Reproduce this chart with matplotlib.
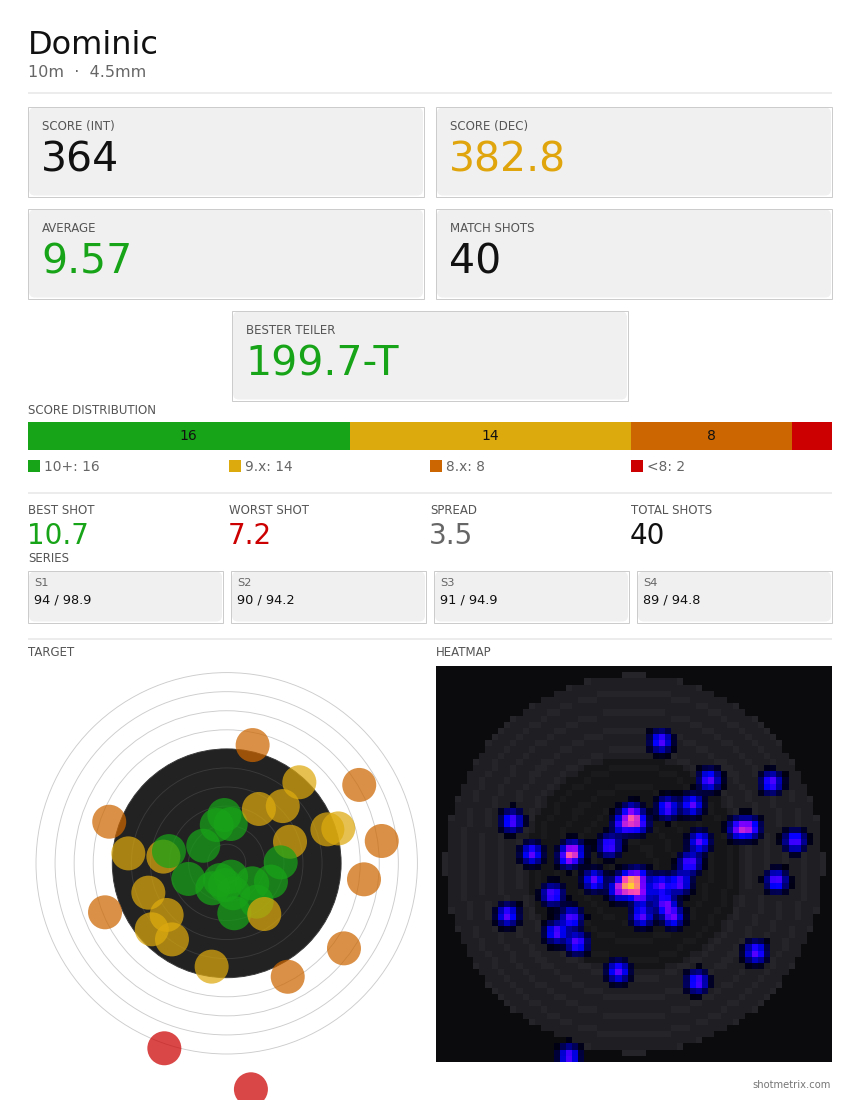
import numpy as np
import matplotlib
matplotlib.use("Agg")
import matplotlib.pyplot as plt
from matplotlib.patches import FancyBboxPatch, Rectangle, Circle

plt.rcParams['font.family'] = ['DejaVu Sans']

# ---------------- data ----------------
shooter = "Dominic"
subtitle = "10m  \u00b7  4.5mm"

card_labels = ["SCORE (INT)", "SCORE (DEC)", "AVERAGE", "MATCH SHOTS", "BESTER TEILER"]
card_values = ["364", "382.8", "9.57", "40", "199.7-T"]

dist_labels = ["10+", "9.x", "8.x", "<8"]
dist_counts = [16, 14, 8, 2]

stat_labels = ["BEST SHOT", "WORST SHOT", "SPREAD", "TOTAL SHOTS"]
stat_values = ["10.7", "7.2", "3.5", "40"]

series_names = ["S1", "S2", "S3", "S4"]
series_values = ["94 / 98.9", "90 / 94.2", "91 / 94.9", "89 / 94.8"]

# shot positions (ring units, centre = 0) and score class
shot_x = [-0.12, 0.21, -0.52, 1.69, 2.94, 3.81, -1.23, -3.32, -3.03, -5.16,
          1.36, 6.95, -6.16, 5.28, 5.85, 3.32, 8.13, 2.83, 2.32, 1.34,
          0.23, -0.09, -0.75, -0.35, -2.01, 7.20, -6.38, -4.11, -3.15, -3.93,
          -2.87, 0.40, 1.57, 0.35, 1.97, -0.79, 6.15, 3.20, -3.27, 1.27]
shot_y = [2.53, 2.06, 2.01, 2.85, 3.00, 4.25, 0.92, 0.35, 0.64, 0.52,
          6.20, 4.11, 2.18, 1.78, 1.83, 1.13, 1.17, 0.05, -0.96, -1.05,
          -0.70, -1.14, -1.31, -0.88, -0.82, -0.84, -2.57, -1.54, -2.71, -3.46,
          -3.99, -2.62, -2.01, -1.57, -2.66, -5.42, -4.46, -5.95, -9.70, -11.85]
shot_cls = ["10", "10", "10", "9", "9", "9", "10", "9", "10", "9",
            "8", "8", "8", "9", "9", "9", "8", "10", "10", "10",
            "10", "10", "10", "10", "10", "8", "8", "9", "9", "9",
            "9", "10", "10", "10", "9", "9", "8", "8", "7", "7"]

# ---------------- style ----------------
GREEN = "#18a418"
YELLOW = "#ddaa0e"
ORANGE = "#cc6600"
RED = "#cc0000"
cls_color = {"10": GREEN, "9": YELLOW, "8": ORANGE, "7": RED}
dist_colors = [GREEN, YELLOW, ORANGE, RED]
card_colors = ["#111111", "#e0a50c", GREEN, "#111111", GREEN]
stat_colors = [GREEN, RED, "#666666", "#111111"]
LABEL = "#555555"

W, H = 860, 1100
fig = plt.figure(figsize=(W / 100, H / 100), dpi=100)
fig.patch.set_facecolor("white")

bg = fig.add_axes([0, 0, 1, 1])
bg.set_xlim(0, W)
bg.set_ylim(H, 0)
bg.axis("off")


def pt(px):
    return px * 72 / 100


def hline(y):
    bg.plot([28, 832], [y, y], color="#e8e8e8", lw=pt(1.6), solid_capstyle="butt")


def card(x0, y0, x1, y1):
    bg.add_patch(FancyBboxPatch((x0 + 1, y0 + 1), x1 - x0 - 2, y1 - y0 - 2,
                                boxstyle="round,pad=0,rounding_size=6",
                                fc="#f0f0f0", ec="none"))
    bg.add_patch(Rectangle((x0, y0), x1 - x0, y1 - y0, fc="none",
                           ec="#cccccc", lw=pt(1)))


# header
bg.text(28, 54.3, shooter, fontsize=23, color="#111111", va="baseline")
bg.text(28, 76.7, subtitle, fontsize=11.5, color="#666666", va="baseline")
hline(93)

# metric cards
card_boxes = [(28, 106.5, 424, 196.5), (436, 106.5, 832, 196.5),
              (28, 208.5, 424, 298.5), (436, 208.5, 832, 298.5),
              (232, 310.5, 628, 400.5)]
for (x0, y0, x1, y1), lab, val, col in zip(card_boxes, card_labels, card_values, card_colors):
    card(x0, y0, x1, y1)
    bg.text(x0 + 14, y0 + 23.5, lab, fontsize=8.5, color=LABEL, va="baseline")
    bg.text(x0 + 13, y0 + 65.5, val, fontsize=29.5, color=col, va="baseline")

# score distribution
bg.text(28, 414, "SCORE DISTRIBUTION", fontsize=8.5, color=LABEL, va="baseline")
total = sum(dist_counts)
bar_ax = fig.add_axes([28 / W, 1 - 450 / H, 804 / W, 28 / H])
lefts = np.concatenate([[0], np.cumsum(dist_counts)[:-1]])
bar_ax.barh([0.5] * len(dist_counts), dist_counts, left=lefts, height=1.0,
            color=dist_colors, edgecolor="none")
for l, c in zip(lefts, dist_counts):
    if c / total >= 0.1:
        bar_ax.text(l + c / 2, 0.5, str(c), ha="center", va="center",
                    fontsize=10, color="#111111")
bar_ax.set_xlim(0, total)
bar_ax.set_ylim(0, 1)
bar_ax.axis("off")

for i, (lab, c, col) in enumerate(zip(dist_labels, dist_counts, dist_colors)):
    x = 28 + i * 201
    bg.add_patch(Rectangle((x, 460), 12, 12, fc=col, ec="none"))
    bg.text(x + 16, 471.3, f"{lab}: {c}", fontsize=9.9, color="#666666", va="baseline")

hline(493)

# stats
for i, (lab, val, col) in enumerate(zip(stat_labels, stat_values, stat_colors)):
    x = 28 + i * 201
    bg.text(x, 514, lab, fontsize=8.5, color=LABEL, va="baseline")
    bg.text(x - 1, 544.3, val, fontsize=20, color=col, va="baseline")

# series
bg.text(28, 562, "SERIES", fontsize=8.5, color=LABEL, va="baseline")
for i, (nm, val) in enumerate(zip(series_names, series_values)):
    x0 = 28 + i * 203
    card(x0, 570.5, x0 + 195, 622.5)
    bg.text(x0 + 6, 585.7, nm, fontsize=8.2, color="#666666", va="baseline")
    bg.text(x0 + 6, 603.3, val, fontsize=9.3, color="#111111", va="baseline")

hline(639)
bg.text(28, 655.7, "TARGET", fontsize=8.5, color=LABEL, va="baseline")
bg.text(436, 655.7, "HEATMAP", fontsize=8.5, color=LABEL, va="baseline")
bg.text(831, 1088, "shotmetrix.com", fontsize=7.2, color="#777777", va="baseline", ha="right")

# ---------------- target ----------------
cx, cy, sc = 226.7, 863.3, 19.07
tx = fig.add_axes([28 / W, 0, 396 / W, 434 / H])
tx.set_xlim((28 - cx) / sc, (424 - cx) / sc)
tx.set_ylim(-(1100 - cy) / sc, (cy - 666) / sc)
tx.axis("off")
tx.add_patch(Circle((0, 0), 6, fc="#222222", ec="none", zorder=1))
for k in range(1, 11):
    col = "#cccccc" if k > 6 else "#3a3a3a"
    tx.add_patch(Circle((0, 0), k, fill=False, ec=col, lw=pt(0.9), zorder=2))
marker_d_px = 34
tx.scatter(shot_x, shot_y, s=(pt(marker_d_px)) ** 2,
           c=[cls_color[c] for c in shot_cls], alpha=0.72, linewidths=0, zorder=3)

# ---------------- heatmap ----------------
hx = fig.add_axes([436 / W, 1 - 1062 / H, 396 / W, 396 / H])
N = 64
ext = 10.0
centers = (np.arange(N) + 0.5) / N * 2 * ext - ext
GX, GY = np.meshgrid(centers, centers)
R = np.hypot(GX, GY)

img = np.zeros((N, N, 3))
outer = np.array([0x0b, 0x0b, 0x0d]) / 255
band = np.array([0x1f, 0x1f, 0x23]) / 255
band_l = np.array([0x25, 0x25, 0x29]) / 255
inner = np.array([0x15, 0x15, 0x17]) / 255
inner_l = np.array([0x1a, 0x1a, 0x1d]) / 255
step = 9.55 / 10
frac = (R / step) % 1.0
line = (frac < 0.2) | (frac > 0.92)
img[:] = outer
m_band = (R <= 9.55) & (R > 5.4)
m_in = R <= 5.4
img[m_band & ~line] = band
img[m_band & line] = band_l
img[m_in & ~line] = inner
img[m_in & line] = inner_l

sig = 0.337
dens = np.zeros((N, N))
for x, y in zip(shot_x, shot_y):
    dens += np.exp(-((GX - x) ** 2 + (GY - y) ** 2) / (2 * sig ** 2))
v = np.minimum(dens * 0.37, 0.86)
cmap = plt.get_cmap("gnuplot2")
show = dens > 0.05
img[show] = cmap(v[show])[:, :3]

hx.imshow(img, origin="lower", extent=(-ext, ext, -ext, ext),
          interpolation="nearest", aspect="auto")
hx.set_xlim(-ext, ext)
hx.set_ylim(-ext, ext)
hx.axis("off")

fig.savefig("out.png", dpi=100, facecolor="white")
